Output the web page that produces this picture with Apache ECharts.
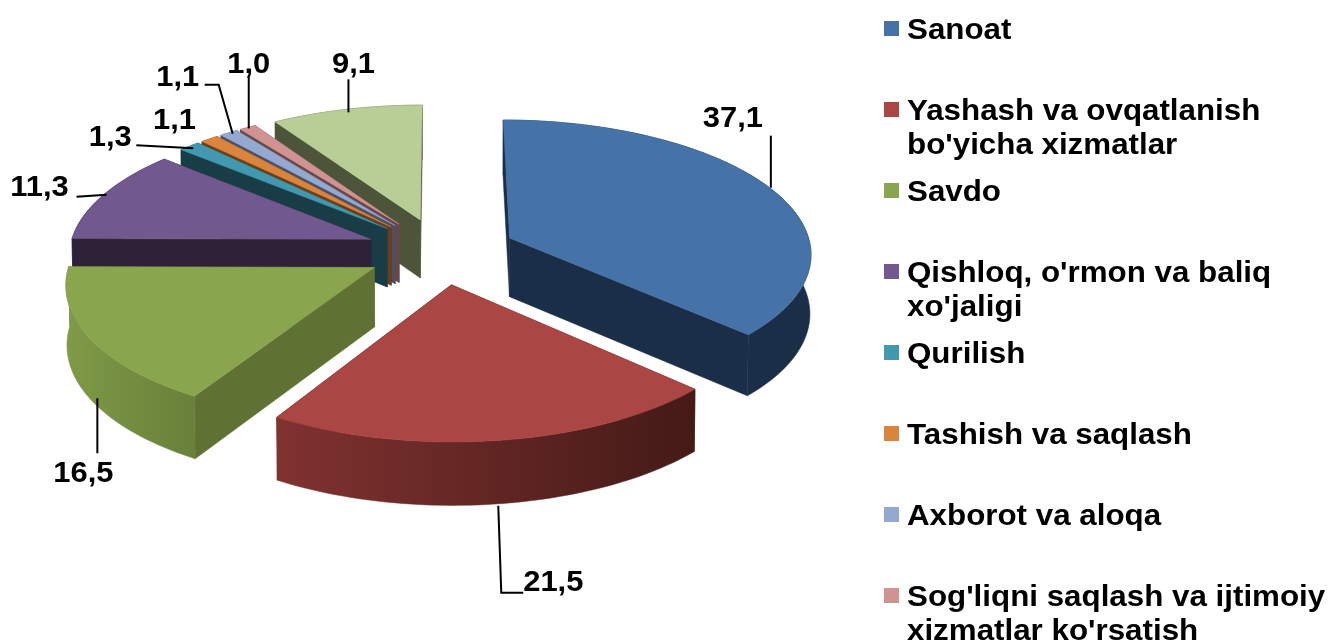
<!DOCTYPE html>
<html>
<head>
<meta charset="utf-8">
<style>
  html, body { margin: 0; padding: 0; background: #fff; }
  #pie { width: 1328px; height: 642px; }
</style>
<script src="https://cdn.jsdelivr.net/npm/echarts@6/dist/echarts.min.js"></script>
</head>
<body>
<div id="pie"></div>
<script>
// data, clockwise from 12 o'clock
const shares = [37.1, 21.5, 16.5, 11.3, 1.3, 1.1, 1.1, 1.0, 9.1]
const shareLabels = ['37,1', '21,5', '16,5', '11,3', '1,3', '1,1', '1,1', '1,0', '9,1']
const legendNames = [
  'Sanoat',
  'Yashash va ovqatlanish\nbo\'yicha xizmatlar',
  'Savdo',
  'Qishloq, o\'rmon va baliq\nxo\'jaligi',
  'Qurilish',
  'Tashish va saqlash',
  'Axborot va aloqa',
  'Sog\'liqni saqlash va ijtimoiy\nxizmatlar ko\'rsatish',
]

// colours of the top faces and the walls
const topColors = ['#4572a7', '#aa4643', '#89a54e', '#71588f', '#4198af', '#db843d', '#93a9cf', '#d19392', '#b9cd96']
const wallLeft = ['#1b2e47', '#803230', '#7f9a48', '#2e2238', '#193d47', '#6c3d17', '#4a5068', '#6a4646', '#4c5539']
const wallRight = ['#1b2e47', '#441a17', '#688039', '#2e2238', '#193d47', '#6c3d17', '#4a5068', '#6a4646', '#4c5539']
const cutColors = ['#1b2e47', '#441a17', '#5f7233', '#2e2238', '#193d47', '#6c3d17', '#4a5068', '#6a4646', '#4c5539']

// leader lines: nudge off the rim point, steps from there, then the text offset from the line's end
const leaderNudge = [[0, -1], [-1, 2], [7, -1], [3, 0], [4, 2], [0, 2], [4, 1], [1, 1], [2, 3]]
const leaderSteps = [
  [[0, -52]],
  [[3, 87], [22, 0]],
  [[0, 55]],
  [[-30, 2]],
  [[-57, -3]],
  [],
  [[-14, -49], [-14, 0]],
  [[0, -52]],
  [[0, -33]],
]
const labelOffsets = [
  [-38, -17], [30, -10], [-14, 21], [-37, -9], [-26, -8],
  [-35, -20], [-27, -7], [0, -12], [5, -15],
]

// pie geometry, a unit circle seen in perspective
const CX = 441
const CY = 251
const RX = 302
const RY = 133
const PERSPECTIVE = 0.105
const EXPLODE = 0.25
const DEPTH = 59
const FONT = '"Liberation Sans", Arial, sans-serif'

const total = shares.reduce((a, b) => a + b, 0)
let acc = 0
const angles = shares.map((v) => {
  const a0 = (acc / total) * Math.PI * 2
  acc += v
  return [a0, (acc / total) * Math.PI * 2]
})

// screen point of a slice, r = 0 at its apex, r = 1 on its rim. down = true for the lower face
function project(i, angle, r, down) {
  const mid = (angles[i][0] + angles[i][1]) / 2
  const u = EXPLODE * Math.sin(mid) + r * Math.sin(angle)
  const v = -EXPLODE * Math.cos(mid) - r * Math.cos(angle)
  const s = 1 / (1 - PERSPECTIVE * v)
  const x = RX * u * s
  const y = CY + RY * v * s
  if (!down) return [CX + x, y]
  return [CX + x * 0.997, y + DEPTH * (1 + 0.06 * v)]
}

function arcPoints(i, down) {
  const [a0, a1] = angles[i]
  const n = Math.max(4, Math.ceil((a1 - a0) * 40))
  const pts = []
  for (let k = 0; k <= n; k++) {
    pts.push(project(i, a0 + ((a1 - a0) * k) / n, 1, down))
  }
  return pts
}

function renderSlice(params, api) {
  const i = params.dataIndex
  const mid = (angles[i][0] + angles[i][1]) / 2
  // back slices first
  const z = Math.round((-Math.cos(mid) + 1) * 100) * 5

  const apex = project(i, mid, 0, false)
  const apexLow = project(i, mid, 0, true)
  const top = arcPoints(i, false)
  const bottom = arcPoints(i, true)
  const wallFill = new echarts.graphic.LinearGradient(0, 0, 1, 0, [
    { offset: 0, color: wallLeft[i] },
    { offset: 1, color: wallRight[i] },
  ])
  const poly = (points, fill, z2) => ({
    type: 'polygon',
    z2,
    shape: { points },
    style: { fill, stroke: fill, lineWidth: 0.5 },
  })
  return {
    type: 'group',
    children: [
      poly([apex, top[0], bottom[0], apexLow], cutColors[i], z),
      poly([apex, top[top.length - 1], bottom[bottom.length - 1], apexLow], cutColors[i], z + 1),
      poly(top.concat(bottom.slice().reverse()), wallFill, z + 2),
      poly([apex].concat(top), topColors[i], z + 3),
    ],
  }
}

function renderLabel(params, api) {
  const i = params.dataIndex
  const mid = (angles[i][0] + angles[i][1]) / 2
  // front slices carry the line on the wall's lower edge
  const p = project(i, mid, 1, Math.cos(mid) < -0.3)
  let x = p[0] + leaderNudge[i][0]
  let y = p[1] + leaderNudge[i][1]
  const points = [[x, y]]
  leaderSteps[i].forEach((s) => {
    x += s[0]
    y += s[1]
    points.push([x, y])
  })
  const children = [
    {
      type: 'text',
      z2: 2001,
      x: x + labelOffsets[i][0],
      y: y + labelOffsets[i][1],
      scaleX: 1.03,
      style: {
        text: shareLabels[api.value(0)],
        font: 'bold 30px ' + FONT,
        fill: '#000',
        align: 'center',
        verticalAlign: 'middle',
      },
    },
  ]
  if (points.length > 1) {
    children.push({
      type: 'polyline',
      z2: 2000,
      shape: { points },
      style: { fill: null, stroke: '#000', lineWidth: 2 },
    })
  }
  return { type: 'group', children }
}

function renderLegend(params, api) {
  const i = params.dataIndex
  const rowY = 29 + i * 81
  return {
    type: 'group',
    children: [
      {
        type: 'rect',
        shape: { x: 884, y: rowY - 8, width: 15, height: 15 },
        style: { fill: topColors[i] },
      },
      {
        type: 'text',
        x: 907,
        y: rowY - 15,
        scaleX: 1.08,
        style: {
          text: legendNames[i],
          font: 'bold 29px ' + FONT,
          lineHeight: 34,
          fill: '#000',
          align: 'left',
          verticalAlign: 'top',
        },
      },
    ],
  }
}

const chart = echarts.init(document.getElementById('pie'))
chart.setOption({
  animation: false,
  backgroundColor: '#fff',
  series: [
    {
      type: 'custom',
      coordinateSystem: 'none',
      renderItem: renderSlice,
      data: shares.map((v) => [v]),
    },
    {
      type: 'custom',
      coordinateSystem: 'none',
      renderItem: renderLabel,
      data: shares.map((v, i) => [i]),
    },
    {
      type: 'custom',
      coordinateSystem: 'none',
      renderItem: renderLegend,
      data: legendNames.map((v, i) => [i]),
    },
  ],
})
</script>
</body>
</html>
